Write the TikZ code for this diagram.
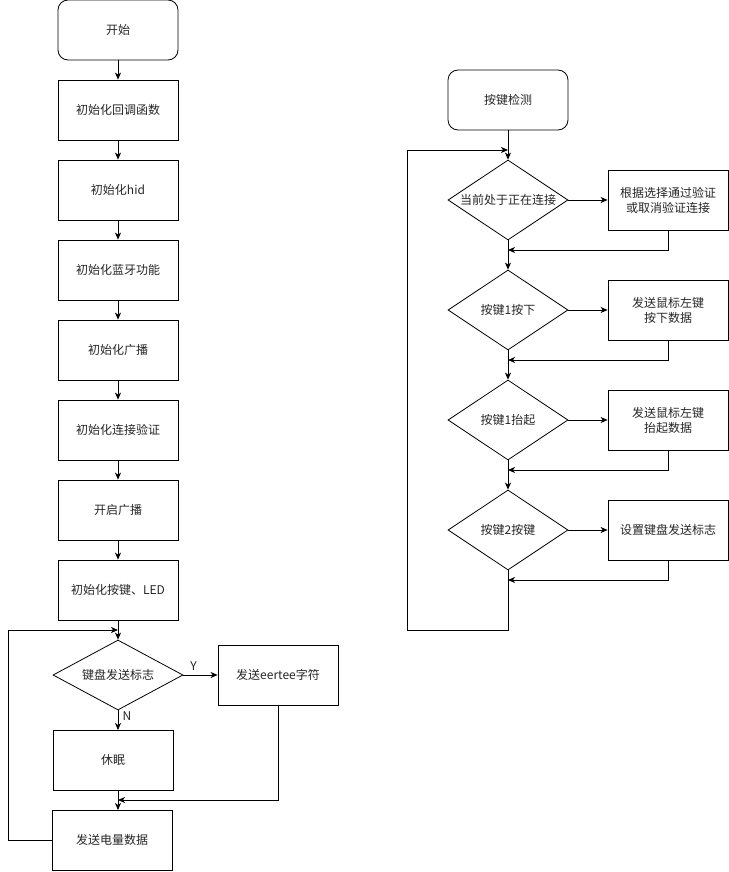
\documentclass[tikz,border=0pt]{standalone}
\usepackage{fontspec}
\setmainfont{Noto Sans CJK SC}
\usetikzlibrary{shapes.geometric,arrows.meta}
\begin{document}
\begin{tikzpicture}[x=1pt,y=-1pt,
  every node/.style={font=\fontsize{12}{15}\selectfont, text=black!85, align=center},
  proc/.style={draw, minimum width=120pt, minimum height=60pt, inner sep=0pt},
  term/.style={proc, rounded corners=10pt},
  dec/.style={draw, diamond, aspect=1.5, inner sep=0pt},
  conn/.style={line width=0.8pt, -{Stealth[length=7pt,width=6pt,inset=2pt]}},
  line/.style={line width=0.8pt},
  line width=0.8pt]
\useasboundingbox (0,0) rectangle (728,872);
\fill[white] (0,0) rectangle (728,872);
% left column
\node[term] (s) at (118,30) {开始};
\node[proc] (a1) at (118,110) {初始化回调函数};
\node[proc] (a2) at (118,190) {初始化hid};
\node[proc] (a3) at (118,270) {初始化蓝牙功能};
\node[proc] (a4) at (118,350) {初始化广播};
\node[proc] (a5) at (118,430) {初始化连接验证};
\node[proc] (a6) at (118,510) {开启广播};
\node[proc] (a7) at (118,590) {初始化按键、LED};
\node[dec, minimum width=130pt, minimum height=70pt] (d0) at (118,675) {键盘发送标志};
\node[proc] (y0) at (278,675) {发送eertee字符};
\node[proc] (sl) at (113,760) {休眠};
\node[proc] (bt) at (112,840) {发送电量数据};
\coordinate (m0) at (118,630);
\coordinate (m1) at (118,800);
\draw[conn] (s) -- (a1);
\draw[conn] (a1) -- (a2);
\draw[conn] (a2) -- (a3);
\draw[conn] (a3) -- (a4);
\draw[conn] (a4) -- (a5);
\draw[conn] (a5) -- (a6);
\draw[conn] (a6) -- (a7);
\draw[conn] (a7.south) -- (d0.north);
\draw[conn] (d0.east) -- node[above, pos=0.3, yshift=1pt] {Y} (y0.west);
\draw[conn] (d0.south) -- node[right, pos=0.3, xshift=1pt] {N} (118,730);
\draw[conn] (118,790) -- (118,810);
\draw[conn] (y0.south) |- (m1);
\draw[conn] (bt.west) -- (8,840) |- (m0);
% right column
\node[term] (k) at (508,100) {按键检测};
\node[dec, minimum width=120pt, minimum height=80pt] (d1) at (508,200) {当前处于正在连接};
\node[dec, minimum width=120pt, minimum height=80pt] (d2) at (508,310) {按键1按下};
\node[dec, minimum width=120pt, minimum height=80pt] (d3) at (508,420) {按键1抬起};
\node[dec, minimum width=120pt, minimum height=80pt] (d4) at (508,530) {按键2按键};
\node[proc] (b1) at (668,200) {根据选择通过验证\\或取消验证连接};
\node[proc] (b2) at (668,310) {发送鼠标左键\\按下数据};
\node[proc] (b3) at (668,420) {发送鼠标左键\\抬起数据};
\node[proc] (b4) at (668,530) {设置键盘发送标志};
\coordinate (r0) at (508,150);
\coordinate (r1) at (508,250);
\coordinate (r2) at (508,360);
\coordinate (r3) at (508,470);
\coordinate (r4) at (508,580);
\draw[conn] (k) -- (d1);
\draw[conn] (d1) -- (b1);
\draw[conn] (d2) -- (b2);
\draw[conn] (d3) -- (b3);
\draw[conn] (d4) -- (b4);
\draw[conn] (d1) -- (d2);
\draw[conn] (d2) -- (d3);
\draw[conn] (d3) -- (d4);
\draw[conn] (b1.south) |- (r1);
\draw[conn] (b2.south) |- (r2);
\draw[conn] (b3.south) |- (r3);
\draw[conn] (b4.south) |- (r4);
\draw[conn] (d4.south) -- (508,630) -- (407,630) |- (r0);
\end{tikzpicture}
\end{document}
